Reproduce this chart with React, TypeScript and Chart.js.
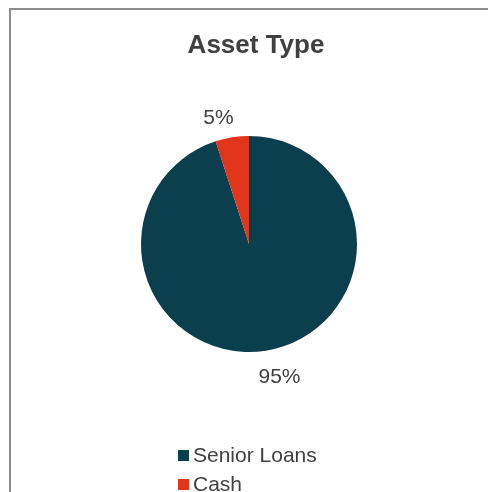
import React, { useEffect, useRef } from "react";
import { Chart, registerables } from "chart.js";

Chart.register(...registerables);

const titleText = "Asset Type";
const categories = ["Senior Loans", "Cash"];
const values = [95, 5];
const colors = ["#0b3f4d", "#e1361b"];
const valueLabels = ["95%", "5%"];

const FONT = "'Liberation Sans', Arial, Helvetica, sans-serif";
const TEXT_COLOR = "#404040";

const overlayPlugin = {
  id: "overlay",
  afterDraw(chart: any) {
    const ctx = chart.ctx as CanvasRenderingContext2D;
    ctx.save();
    // title
    ctx.fillStyle = TEXT_COLOR;
    ctx.font = `bold 26px ${FONT}`;
    ctx.textAlign = "center";
    ctx.textBaseline = "middle";
    ctx.fillText(titleText, 256, 46);

    // percent labels outside slices
    const meta = chart.getDatasetMeta(0);
    ctx.font = `21px ${FONT}`;
    meta.data.forEach((arc: any, i: number) => {
      const mid = (arc.startAngle + arc.endAngle) / 2;
      const d = arc.outerRadius + 23;
      const dx = Math.cos(mid);
      const dy = Math.sin(mid);
      const x = arc.x + dx * d + Math.sign(dx) * 10;
      const y = arc.y + dy * d + 4;
      ctx.fillText(valueLabels[i], x, y);
    });

    // legend
    ctx.font = `21px ${FONT}`;
    ctx.textAlign = "left";
    categories.forEach((c, i) => {
      const cy = 455.5 + i * 29;
      ctx.fillStyle = colors[i];
      ctx.fillRect(178, cy - 5.5, 11, 11);
      ctx.fillStyle = TEXT_COLOR;
      ctx.fillText(c, 193, cy + 1);
    });
    ctx.restore();
  },
};

export default function App() {
  const ref = useRef<HTMLCanvasElement>(null);
  useEffect(() => {
    document.body.style.margin = "0";
    const chart = new Chart(ref.current!, {
      type: "pie",
      data: {
        labels: categories,
        datasets: [
          {
            data: values,
            backgroundColor: colors,
            borderWidth: 0,
            hoverOffset: 0,
          },
        ],
      },
      options: {
        responsive: false,
        animation: false,
        layout: { padding: { left: 141, right: 131, top: 136, bottom: 140 } },
        plugins: {
          legend: { display: false },
          title: { display: false },
          tooltip: { enabled: false },
        },
      },
      plugins: [overlayPlugin],
    });
    return () => chart.destroy();
  }, []);
  return (
    <div style={{ position: "relative", width: 488, height: 492, overflow: "hidden", background: "#fff" }}>
      <canvas ref={ref} width={488} height={492} style={{ display: "block" }} />
      <div
        style={{
          position: "absolute",
          left: 9,
          top: 8,
          width: 600,
          height: 600,
          borderLeft: "2px solid #8c8c8c",
          borderTop: "2px solid #8c8c8c",
          pointerEvents: "none",
        }}
      />
    </div>
  );
}
